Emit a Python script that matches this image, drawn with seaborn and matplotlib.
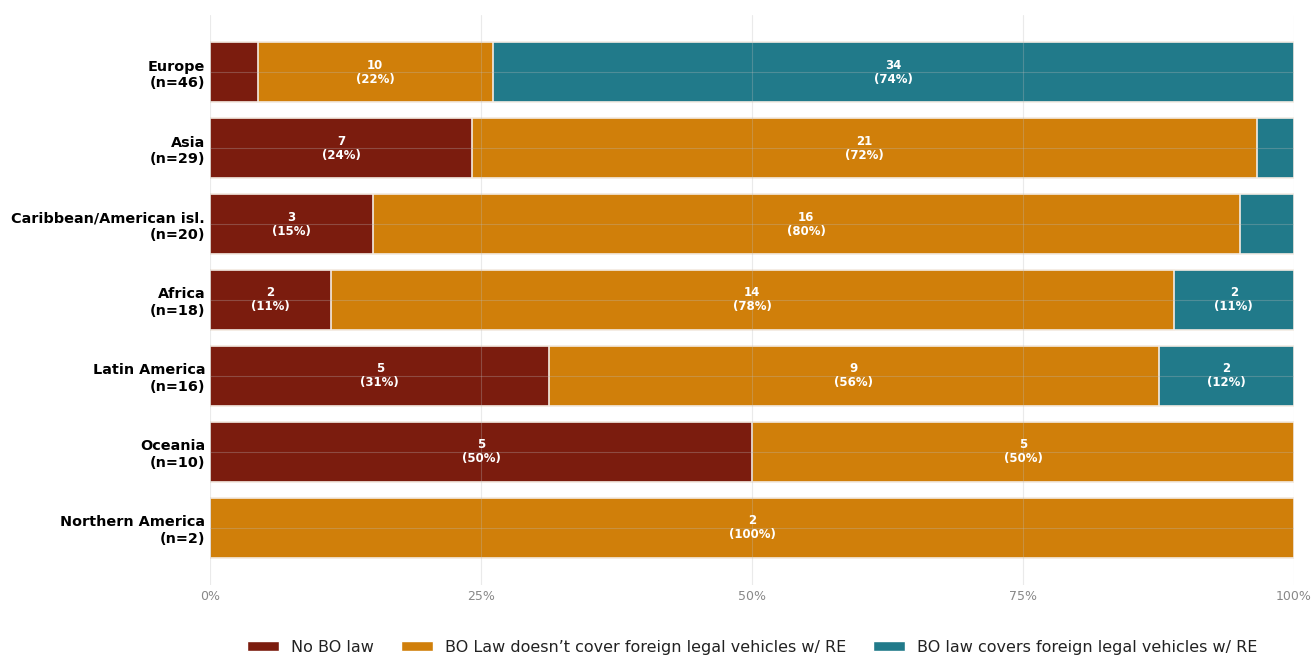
import numpy as np
import pandas as pd
import matplotlib
matplotlib.use("Agg")
import matplotlib.pyplot as plt
import seaborn as sns
from matplotlib.patches import Patch

regions = ["Europe", "Asia", "Caribbean/American isl.", "Africa",
           "Latin America", "Oceania", "Northern America"]
no_bo_law = [2, 7, 3, 2, 5, 5, 0]
bo_not_cover = [10, 21, 16, 14, 9, 5, 2]
bo_covers = [34, 1, 1, 2, 2, 0, 0]
series_names = ["No BO law",
                "BO Law doesn\u2019t cover foreign legal vehicles w/ RE",
                "BO law covers foreign legal vehicles w/ RE"]
colors = ["#7B1C0E", "#D07F0A", "#217A8A"]
x_ticks = [0, 25, 50, 75, 100]
x_tick_labels = ["0%", "25%", "50%", "75%", "100%"]

sns.set_theme(style="white")
plt.rcParams['font.family'] = ['DejaVu Sans']

counts = np.array([no_bo_law, bo_not_cover, bo_covers], dtype=float)
totals = counts.sum(axis=0)
pcts = counts / totals * 100
cum = np.cumsum(pcts, axis=0)
ylabels = [f"{r}\n(n={int(t)})" for r, t in zip(regions, totals)]

fig, ax = plt.subplots(figsize=(13.15, 6.55), dpi=100)
fig.subplots_adjust(left=0.16, right=0.984, top=0.977, bottom=0.107)

# draw from the full stack down so the earlier segments overlay
for i in [2, 1, 0]:
    df = pd.DataFrame({"region": ylabels, "value": cum[i]})
    sns.barplot(data=df, x="value", y="region", color=colors[i], orient="h",
                width=0.8, saturation=1, edgecolor="#f4ece4", linewidth=1.2,
                ax=ax, zorder=2)

# labels
for j in range(len(regions)):
    left = 0.0
    for i in range(3):
        w = pcts[i, j]
        if w >= 10:
            ax.text(left + w / 2, j, f"{int(counts[i, j])}\n({round(w)}%)",
                    ha="center", va="center", color="white", fontsize=8.5,
                    fontweight="bold", zorder=5, linespacing=1.1)
        left += w

ax.set_xlim(0, 100)
ax.set_ylim(6.75, -0.75)
ax.set_xticks(x_ticks)
ax.set_xticklabels(x_tick_labels, color="#888888", fontsize=9)
ax.set_xlabel("")
ax.set_ylabel("")
ax.tick_params(axis="both", length=0)
ax.tick_params(axis="y", labelsize=10.4, pad=3.8)
for lab in ax.get_yticklabels():
    lab.set_fontweight("bold")
    lab.set_color("black")
ax.tick_params(axis="x", pad=4)
ax.grid(True, color="#bbbbbb", alpha=0.3, linewidth=0.8, zorder=4)
ax.set_axisbelow(False)
for s in ax.spines.values():
    s.set_visible(False)

handles = [Patch(facecolor=c, edgecolor="white", label=n)
           for c, n in zip(colors, series_names)]
fig.legend(handles=handles, loc="lower center", ncol=3, frameon=False,
           fontsize=11.5, bbox_to_anchor=(0.572, -0.022), columnspacing=1.7,
           handlelength=2.0, handleheight=0.6, handletextpad=0.75,
           labelcolor="#222222")

fig.savefig("out.png", dpi=100)
